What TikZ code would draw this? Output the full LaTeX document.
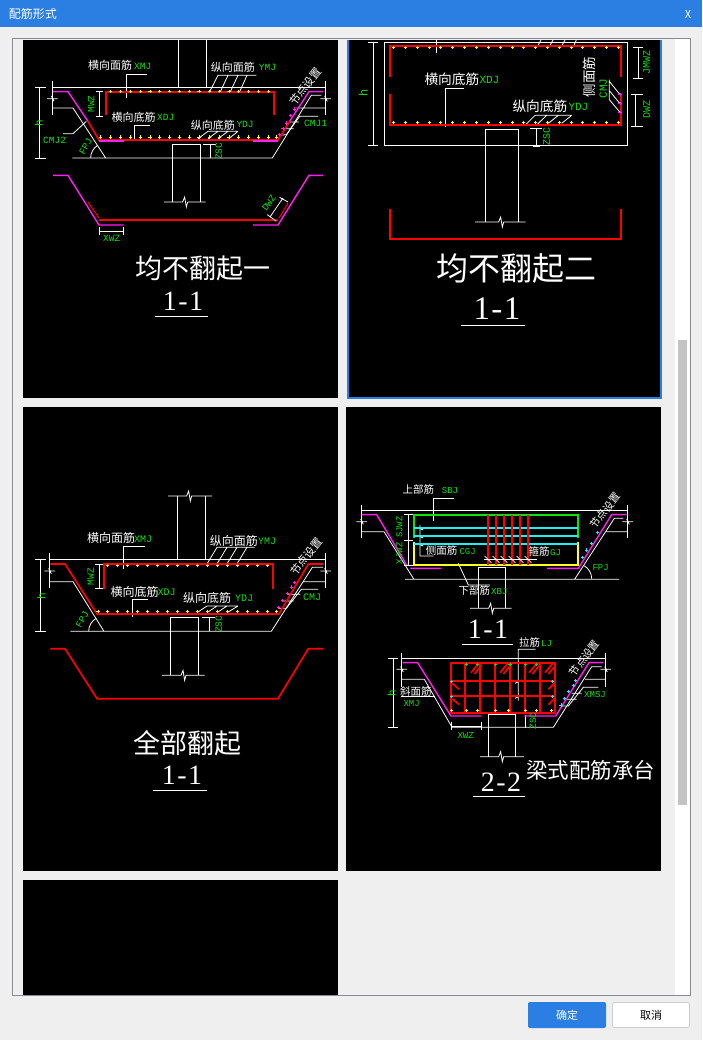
\documentclass[tikz,border=0pt]{standalone}
\usepackage{fontspec}
\setmainfont{Noto Sans CJK SC}
\newfontfamily\gfont{Liberation Mono}
\newfontfamily\nfont{Liberation Serif}
\usetikzlibrary{calc}
\definecolor{blueui}{HTML}{2C7FE2}
\definecolor{pagebg}{HTML}{EFEFEF}
\definecolor{frameg}{HTML}{8A8A90}
\definecolor{thumbg}{HTML}{C4C4C4}
\definecolor{cadgreen}{HTML}{10E010}
\definecolor{cadmag}{HTML}{FF20F0}
\definecolor{cadred}{HTML}{FF0000}
\definecolor{cadyel}{HTML}{FFFF20}
\definecolor{cadcy}{HTML}{20F0F0}
\definecolor{cadgr}{HTML}{10E010}
\tikzset{
  zm/.style 2 args={shift={(#1pt,-#2pt)},x=0.33333pt,y=-0.33333pt},
  wl/.style={draw=white,line width=0.8pt},
  rl/.style={draw=cadred,line width=1.7pt,line join=miter},
  ml/.style={draw=cadmag,line width=1.4pt},
  yl/.style={draw=cadyel,line width=1.7pt},
  gl/.style={draw=cadgr,line width=1.7pt},
  cl/.style={draw=cadcy,line width=1.7pt},
  panel/.style={fill=black,draw=none},
  wlab/.style={text=white,inner sep=0pt,anchor=west},
  glab/.style={text=cadgreen,inner sep=0pt,anchor=west},
  wcen/.style={text=white,inner sep=0pt,anchor=center},
  gcen/.style={text=cadgreen,inner sep=0pt,anchor=center},
  uitext/.style={inner sep=0pt,anchor=center},
}
\newcounter{tn}
% white CJK text, west anchored: pos, text, size
\newcommand\cj[3]{\stepcounter{tn}\node[wlab] (t\arabic{tn}) at (#1) {\fontsize{#3}{#3}\selectfont #2};}
% green CAD text, west anchored
\newcommand\gr[3]{\stepcounter{tn}\node[glab] (t\arabic{tn}) at (#1) {\fontsize{#3}{#3}\selectfont\gfont #2};}
% rotated, centred
\newcommand\rc[4]{\stepcounter{tn}\node[wcen,rotate=#1] (t\arabic{tn}) at (#2) {\fontsize{#4}{#4}\selectfont #3};}
\newcommand\rg[4]{\stepcounter{tn}\node[gcen,rotate=#1] (t\arabic{tn}) at (#2) {\fontsize{#4}{#4}\selectfont\gfont #3};}
% section number
\newcommand\secnum[4]{\stepcounter{tn}\node[wcen] (t\arabic{tn}) at (#1) {\fontsize{#4}{#4}\selectfont\nfont #2\kern1.5pt-\kern1.5pt#3};}
% break line: x1, xmid, x2, y
\newcommand\brk[4]{\draw[wl] (#1,#4)--(#2-6,#4)--(#2,#4-15)--(#2+5,#4+15)--(#2+9,#4)--(#3,#4);}
% small break mark: xmid, y
\newcommand\smb[2]{\draw[wl] (#1-16,#2)--(#1+2,#2)--(#1-3,#2-8)--(#1+5,#2+8)--(#1,#2)--(#1+16,#2);}
% plus dots: colour, y, list
\newcommand\pdots[3]{\foreach \q in {#3} {\draw[draw=#1,line width=0.8pt] (\q-5,#2)--(\q+5,#2) (\q,#2-5)--(\q,#2+5);}}
\begin{document}
\begin{tikzpicture}[x=1pt,y=-1pt]
\useasboundingbox (0,0) rectangle (702,1040);
% ---- chrome
\fill[pagebg] (0,0) rectangle (702,1040);
\fill[blueui] (0,0) rectangle (702,27);
\node[uitext,text=white] (title) at (33,14) {\fontsize{12}{12}\selectfont 配筋形式};
\node[uitext,text=white] (closex) at (688,14) {\fontsize{11}{11}\selectfont X};
\draw[frameg,line width=0.8pt] (12.5,38.5) rectangle (690.5,995);
\fill[white] (675,39) rectangle (690,994.5);
\fill[thumbg] (678,340) rectangle (687,805);
% ---- panels
\fill[panel] (23,40) rectangle (338,398);
\fill[blueui] (346.5,40) rectangle (661.5,398.5);
\fill[panel] (348.5,40) rectangle (659.5,396.5);
\fill[panel] (23,407) rectangle (338,871);
\fill[panel] (346,407) rectangle (661,871);
\fill[panel] (23,880) rectangle (338,994.5);
% ---- buttons
\node[fill=blueui,rounded corners=2pt,minimum width=78pt,minimum height=26pt,inner sep=0pt,text=white] (ok) at (567,1015) {\fontsize{11}{11}\selectfont 确定};
\node[fill=white,draw=black!20,line width=0.7pt,rounded corners=2pt,minimum width=77pt,minimum height=25pt,inner sep=0pt,text=black] (cancel) at (651,1015) {\fontsize{11}{11}\selectfont 取消};

% ---- panel 1
\begin{scope}[zm={23}{38}]
\draw[wl] (466,6)--(466,148) (550,6)--(550,148);
\draw[wl] (88,148)--(908,148) (88,130)--(88,232) (908,130)--(908,232);
\draw[wl] (50,148)--(50,360) (35,148)--(68,148) (35,360)--(68,360);
\smb{88}{182} \smb{908}{182}
\draw[wl] (88,210)--(150,210)--(248,360) (148,360)--(748,360)--(865,172)--(895,172) (820,210)--(908,210);
\draw[wl] (203,360) arc (180:235:45);
\draw[wl] (120,287)--(150,287)--(190,250);
\draw[wl] (228,161)--(228,235) (218,161)--(240,161) (218,235)--(240,235);
\draw[wl] (372,110)--(310,110)--(310,180);
\draw[wl] (700,112)--(585,112)--(560,161) (615,112)--(592,161) (645,112)--(622,161) (672,112)--(650,161);
\draw[wl] (380,262)--(333,262)--(333,310);
\draw[wl] (645,280)--(555,280)--(525,302) (585,280)--(555,302) (615,280)--(585,302) (645,280)--(617,302);
\draw[wl] (448,360)--(448,320)--(532,320)--(532,492) (448,360)--(448,492);
\brk{423}{485}{548}{492}
\draw[wl] (563,320)--(563,360) (540,320)--(580,320);
\draw[wl] (885,235)--(830,235)--(790,290)--(770,292) (828,252)--(800,252) (812,272)--(785,272);
\draw[ml] (90,161)--(135,161)--(195,250) (800,250)--(858,161)--(900,161);
\draw[rl] (195,250)--(228,306)--(765,306)--(800,250);
\draw[ml] (228,309)--(302,309) (690,309)--(765,309);
\draw[rl] (248,232)--(248,161)--(753,161)--(753,232);
\pdots{cadyel}{161}{262,292,322,352,381,410,440,469,499,528,560,590,618,647,677,706,736}
\pdots{cadyel}{297}{232,262,292,322,352,381,410,440,469,499,528,560,590,618,647,677,706,736,760}
\foreach \a/\b in {770/290,780/272,790/255,803/232,815/213} {\draw[cadmag,line width=0.8pt] (\a-5,\b)--(\a+5,\b) (\a,\b-5)--(\a,\b+5);}
\cj{195,82}{横向面筋}{11}
\gr{333,84}{XMJ}{9.5}
\cj{563,87}{纵向面筋}{11}
\gr{707,89}{YMJ}{9.5}
\cj{265,238}{横向底筋}{11}
\gr{402,239}{XDJ}{9.5}
\cj{503,262}{纵向底筋}{11}
\gr{640,258}{YDJ}{9.5}
\gr{843,257}{CMJ1}{9.5}
\gr{60,307}{CMJ2}{9.5}
\rg{60}{188,325}{FPJ}{9.5}
\rg{90}{205,198}{MWZ}{9.5}
\rg{90}{587,340}{ZSC}{9.5}
\rg{90}{47,255}{h}{11}
\rc{52}{847,146}{节点设置}{11}
% lower
\draw[ml] (90,412)--(135,412)--(228,561)--(302,561) (690,561)--(765,561)--(858,412)--(900,412);
\draw[cadred,line width=1pt] (195,492)--(228,540);
\draw[cadred,line width=1pt] (768,540)--(795,495);
\draw[rl] (228,546)--(765,546);
\draw[wl] (741,537)--(780,480) (770,478)--(795,492) (733,530)--(760,550);
\rg{55}{738,495}{DWZ}{9.5}
\draw[wl] (228,580)--(302,580) (228,568)--(228,592) (302,568)--(302,592);
\gr{240,600}{XWZ}{9.5}
\end{scope}
\stepcounter{tn}\node[wcen] (t\arabic{tn}) at (203,268) {\fontsize{27}{27}\selectfont 均不翻起一};
\secnum{183,301}{1}{1}{28}
\draw[wl] (155,316)--(208,316);

% ---- panel 2
\begin{scope}[zm={345}{38}]
\draw[wl] (118,14) rectangle (848,322);
\draw[wl] (85,14)--(85,322) (70,14)--(100,14) (70,322)--(100,322);
\draw[wl] (880,28)--(880,122) (865,28)--(895,28) (865,122)--(895,122);
\draw[wl] (872,168)--(872,265) (858,168)--(895,168) (858,265)--(895,265);
\draw[wl] (274,6)--(274,44);
\draw[wl] (578,24)--(588,6) (614,24)--(624,6) (650,24)--(660,6) (686,24)--(694,6);
\draw[wl] (358,150)--(301,150)--(301,268);
\draw[wl] (680,232)--(570,232)--(542,260) (640,232)--(610,256) (605,232)--(578,258) (680,232)--(650,256);
\draw[wl] (421,552)--(421,274)--(521,274)--(521,552);
\brk{390}{467}{542}{552}
\draw[wl] (575,272)--(575,325) (556,272)--(592,272) (565,325)--(585,325);
\draw[wl] (793,125)--(793,185) (793,130)--(825,170) (793,158)--(825,197) (793,185)--(825,223);
\draw[rl] (135,118)--(135,24)--(828,24)--(828,118);
\draw[rl] (135,168)--(135,260)--(828,260)--(828,168);
\pdots{cadyel}{28}{145,181,217,253,286,322,358,394,430,466,502,535,571,607,643,679,712,748,784,820}
\pdots{cadyel}{253}{145,181,217,253,286,322,358,394,430,466,502,535,571,607,643,679,712,748,784,820}
\foreach \b in {170,197,223} {\draw[cadmag,line width=1pt] (820,\b)--(830,\b) (825,\b-5)--(825,\b+5);}
\cj{238,125}{横向底筋}{13.7}
\gr{403,127}{XDJ}{11}
\cj{502,205}{纵向底筋}{13.7}
\gr{670,207}{YDJ}{11}
\rc{90}{733,117}{侧面筋}{13.5}
\rg{90}{775,152}{CMJ}{11}
\rg{90}{905,75}{JMWZ}{10}
\rg{90}{905,215}{DWZ}{10}
\rg{90}{605,297}{ZSC}{10}
\rg{90}{55,165}{h}{12}
\end{scope}
\draw[rl] (390,209)--(390,239)--(621,239)--(621,209);
\stepcounter{tn}\node[wcen] (t\arabic{tn}) at (516,268) {\fontsize{32}{32}\selectfont 均不翻起二};
\secnum{497,309}{1}{1}{33}
\draw[wl] (461,325)--(525,325);

% ---- panel 3
\begin{scope}[zm={23}{490}]
\draw[wl] (463,18)--(463,208) (547,18)--(547,208);
\brk{435}{497}{567}{18}
\draw[wl] (80,208)--(908,208) (80,190)--(80,295) (908,190)--(908,295);
\draw[wl] (52,208)--(52,424) (37,208)--(68,208) (37,424)--(68,424);
\smb{80}{243} \smb{908}{243}
\draw[wl] (80,275)--(150,275)--(243,424) (142,424)--(745,424)--(868,232)--(900,232) (840,275)--(908,275);
\draw[wl] (197,424) arc (180:240:45);
\draw[wl] (228,222)--(228,296) (215,222)--(240,222) (215,296)--(240,296);
\draw[wl] (365,169)--(301,169)--(301,238);
\draw[wl] (695,172)--(582,172)--(553,220) (612,172)--(583,220) (642,172)--(613,220) (672,172)--(643,220);
\draw[wl] (375,328)--(327,328)--(327,380);
\draw[wl] (645,348)--(552,348)--(522,368) (582,348)--(552,368) (612,348)--(582,368) (645,348)--(612,368);
\draw[wl] (442,556)--(442,382)--(527,382)--(527,556);
\brk{417}{480}{545}{556}
\draw[wl] (558,382)--(558,424) (538,382)--(575,382);
\draw[wl] (885,298)--(835,298)--(790,355)--(768,355) (832,313)--(795,313) (812,333)--(780,333);
\draw[rl] (82,222)--(126,222)--(222,372)--(768,372)--(856,222)--(900,222);
\draw[rl] (243,296)--(243,222)--(750,222)--(750,296);
\pdots{cadyel}{226}{253,283,313,343,373,403,433,463,493,523,553,583,613,643,673,703,733}
\pdots{cadyel}{364}{225,253,283,313,343,373,403,433,463,493,523,553,583,613,643,673,703,733,760}
\foreach \a/\b in {767/352,778/331,793/311,805/291,815/277} {\draw[cadmag,line width=0.8pt] (\a-5,\b)--(\a+5,\b) (\a,\b-5)--(\a,\b+5);}
\draw[rl] (82,476)--(126,476)--(222,626)--(765,626)--(856,476)--(900,476);
\cj{192,145}{横向面筋}{12}
\gr{333,147}{XMJ}{10}
\cj{560,152}{纵向面筋}{12}
\gr{705,153}{YMJ}{10}
\cj{262,305}{横向底筋}{12}
\gr{403,307}{XDJ}{10}
\cj{480,325}{纵向底筋}{12}
\gr{636,325}{YDJ}{10}
\gr{840,322}{CMJ}{10}
\rg{90}{203,260}{MWZ}{9.5}
\rg{60}{178,388}{FPJ}{9.5}
\rg{90}{587,403}{ZSC}{9.5}
\rg{90}{55,318}{h}{11}
\rc{52}{850,200}{节点设置}{11}
\end{scope}
\stepcounter{tn}\node[wcen] (t\arabic{tn}) at (187,743) {\fontsize{27}{27}\selectfont 全部翻起};
\secnum{182,775}{1}{1}{28}
\draw[wl] (153,790)--(207,790);

% ---- panel 4: section 1-1
\begin{scope}[zm={345}{470}]
\draw[wl] (50,122)--(848,122) (50,105)--(50,205) (848,105)--(848,205);
\smb{50}{155} \smb{848}{155}
\draw[wl] (50,185)--(117,185)--(207,328) (180,328)--(822,328) (690,326)--(808,145)--(835,145) (785,185)--(848,185);
\draw[wl] (740,326) arc (0:-60:45);
\draw[wl] (327,85)--(265,85)--(265,152);
\draw[wl] (190,134)--(190,285) (178,134)--(205,134) (178,210)--(205,210) (178,285)--(205,285);
\draw[wl] (225,165)--(225,258)--(265,258) (215,172)--(235,180) (215,196)--(235,204) (215,220)--(235,228);
\draw[wl] (340,280)--(370,345)--(435,345);
\draw[wl] (400,415)--(400,292)--(482,292)--(482,415);
\brk{375}{437}{500}{415}
\draw[ml] (50,134)--(95,134)--(185,285) (196,295)--(288,295) (606,295)--(700,295)--(800,134)--(845,134);
\draw[gl] (207,205)--(207,134)--(698,134)--(698,205);
\draw[yl] (207,215)--(207,285)--(698,285)--(698,215);
\draw[cl] (207,173)--(698,173) (207,197)--(698,197) (207,221)--(698,221);
\foreach \a in {429,453,477,501,525,549} {\draw[rl] (\a,135)--(\a,285);}
\draw[wl] (417,268)--(575,268);
\foreach \a in {429,453,477,501,525,549} {\draw[wl] (\a-10,258)--(\a+10,278);}
\foreach \a/\b in {712/262,725/240,740/220,757/187} {\draw[cadcy,line width=0.8pt] (\a-5,\b)--(\a+5,\b) (\a,\b-5)--(\a,\b+5);}
\cj{172,58}{上部筋}{10.5}
\gr{290,62}{SBJ}{9}
\cj{242,243}{侧面筋}{10.5}
\gr{343,245}{CGJ}{9}
\cj{550,245}{箍筋}{10.5}
\gr{615,247}{GJ}{9}
\cj{340,363}{下部筋}{10.5}
\gr{438,365}{XBJ}{9}
\gr{742,293}{FPJ}{9}
\rg{90}{163,171}{SJWZ}{9}
\rg{90}{163,250}{XJWZ}{9}
\rc{52}{780,122}{节点设置}{10.5}
\end{scope}
\secnum{488,629}{1}{1}{28}
\draw[wl] (462,644)--(513,644);

% ---- panel 4: section 2-2
\begin{scope}[zm={345}{630}]
\draw[wl] (170,85)--(782,85) (170,70)--(170,170) (782,70)--(782,170);
\smb{170}{118} \smb{782}{118}
\draw[wl] (145,85)--(145,293) (130,85)--(160,85) (130,293)--(160,293);
\draw[wl] (170,148)--(238,148)--(320,290) (320,292)--(625,292)--(740,110)--(770,110) (720,148)--(782,148);
\draw[wl] (572,58)--(520,58)--(520,212) (510,160)--(530,150) (510,205)--(530,195);
\draw[wl] (168,198)--(270,198);
\draw[wl] (320,288)--(410,288) (320,275)--(320,300) (410,275)--(410,300);
\draw[wl] (430,380)--(430,252)--(512,252)--(512,380);
\brk{405}{467}{537}{380}
\draw[wl] (540,255)--(540,295);
\draw[wl] (760,172)--(715,172)--(670,228)--(648,228) (710,190)--(680,190) (695,208)--(665,208);
\draw[ml] (173,98)--(218,98)--(318,258)--(408,258) (538,258)--(632,258)--(732,98)--(775,98);
\draw[rl] (318,98) rectangle (630,248);
\foreach \a in {360,405,450,495,540,585} {\draw[rl] (\a,98)--(\a,248);}
\foreach \b in {152,198} {\draw[rl] (318,\b)--(630,\b);}
\foreach \a in {378,465,552,600} {\draw[rl] (\a,128)--(\a+22,102) (\a+10,132)--(\a+32,106);}
\foreach \b in {178,224} {\draw[rl] (322,\b-18)--(342,\b);\draw[rl] (628,\b-18)--(610,\b);}
\foreach \a in {320,364,397,451,490,541,575,620} {\draw[cadyel,line width=0.8pt] (\a-5,241)--(\a+5,241) (\a,236)--(\a,246);}
\foreach \a in {364,397,451,495,541,575} {\draw[cadgreen,line width=0.8pt] (\a-5,104)--(\a+5,104) (\a,99)--(\a,109);}
\foreach \a/\b in {320/155,320/200,622/155,622/200,648/225,658/205,670/185,685/167,692/152} {\draw[cadcy,line width=0.8pt] (\a-5,\b)--(\a+5,\b) (\a,\b-5)--(\a,\b+5);}
\cj{522,38}{拉筋}{10.5}
\gr{588,40}{LJ}{9}
\cj{165,185}{斜面筋}{10.5}
\gr{175,222}{XMJ}{9}
\gr{717,195}{XMSJ}{9}
\gr{337,316}{XWZ}{9}
\rg{90}{564,273}{ZSC}{9.5}
\rg{90}{140,190}{h}{11}
\rc{52}{718,84}{节点设置}{10.5}
\end{scope}
\secnum{501,782}{2}{2}{28}
\draw[wl] (473,796)--(525,796);
\stepcounter{tn}\node[wlab] (t\arabic{tn}) at (526,770) {\fontsize{21.5}{21.5}\selectfont 梁式配筋承台};
\end{tikzpicture}
\end{document}
